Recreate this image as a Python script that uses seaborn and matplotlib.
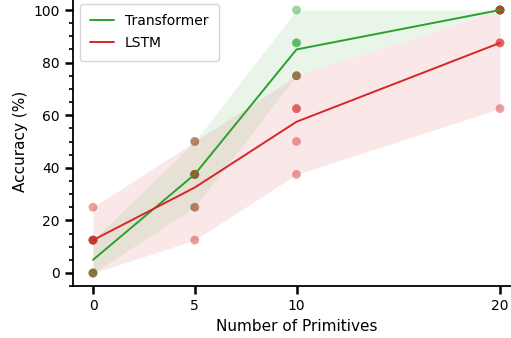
import numpy as np
import pandas as pd
import matplotlib
matplotlib.use("Agg")
import matplotlib.pyplot as plt
import seaborn as sns
from matplotlib.ticker import MultipleLocator

primitives = [0, 5, 10, 20]
transformer_runs = {
    0: [0, 0, 0, 12.5, 12.5],
    5: [25, 37.5, 37.5, 37.5, 50],
    10: [75, 75, 87.5, 87.5, 100],
    20: [100, 100, 100, 100, 100],
}
lstm_runs = {
    0: [0, 12.5, 12.5, 12.5, 25],
    5: [12.5, 25, 37.5, 37.5, 50],
    10: [37.5, 50, 62.5, 62.5, 75],
    20: [62.5, 87.5, 87.5, 100, 100],
}
models = ["Transformer", "LSTM"]
colors = {"Transformer": "#2ca02c", "LSTM": "#d62728"}

rows = []
for name, runs in [("Transformer", transformer_runs), ("LSTM", lstm_runs)]:
    for p in primitives:
        for v in runs[p]:
            rows.append({"Model": name, "Primitives": p, "Accuracy": v})
df = pd.DataFrame(rows)

sns.set_style("ticks", {"axes.edgecolor": "black", "text.color": "black",
                        "axes.labelcolor": "black", "xtick.color": "black",
                        "ytick.color": "black"})
plt.rcParams['font.family'] = ['DejaVu Sans']
W, H = 511, 338
fig = plt.figure(figsize=(W / 100, H / 100), dpi=100)
left_px, right_px = 72.65, 520.35
top_px, bot_px = -3.15, 286.15
ax = fig.add_axes([left_px / W, (H - bot_px) / H,
                   (right_px - left_px) / W, (bot_px - top_px) / H])

sns.lineplot(data=df, x="Primitives", y="Accuracy", hue="Model", hue_order=models,
             palette=colors, estimator="mean",
             errorbar=lambda x: (x.min(), x.max()),
             err_kws={"alpha": 0.1, "linewidth": 0}, linewidth=1.4, ax=ax)
sns.scatterplot(data=df, x="Primitives", y="Accuracy", hue="Model", hue_order=models,
                palette=colors, s=40, alpha=0.45, linewidth=0, legend=False, ax=ax)

ax.set_xlim(-1, 21)
ax.set_ylim(-5, 105)
ax.set_xticks(primitives)
ax.set_yticks([0, 20, 40, 60, 80, 100])
ax.yaxis.set_minor_locator(MultipleLocator(5))
ax.tick_params(axis="both", which="major", length=6, width=1.8, labelsize=10)
ax.tick_params(axis="y", which="minor", length=3, width=1.2)
for s in ["left", "bottom"]:
    ax.spines[s].set_linewidth(1.3)
sns.despine(ax=ax)
ax.set_xlabel("Number of Primitives", fontsize=11)
ax.set_ylabel("Accuracy (%)", fontsize=11)
leg = ax.legend(loc="upper left", fontsize=10, frameon=True,
                borderpad=0.76, labelspacing=0.57, handlelength=1.7)
leg.set_title(None)

fig.savefig("out.png", dpi=100)
